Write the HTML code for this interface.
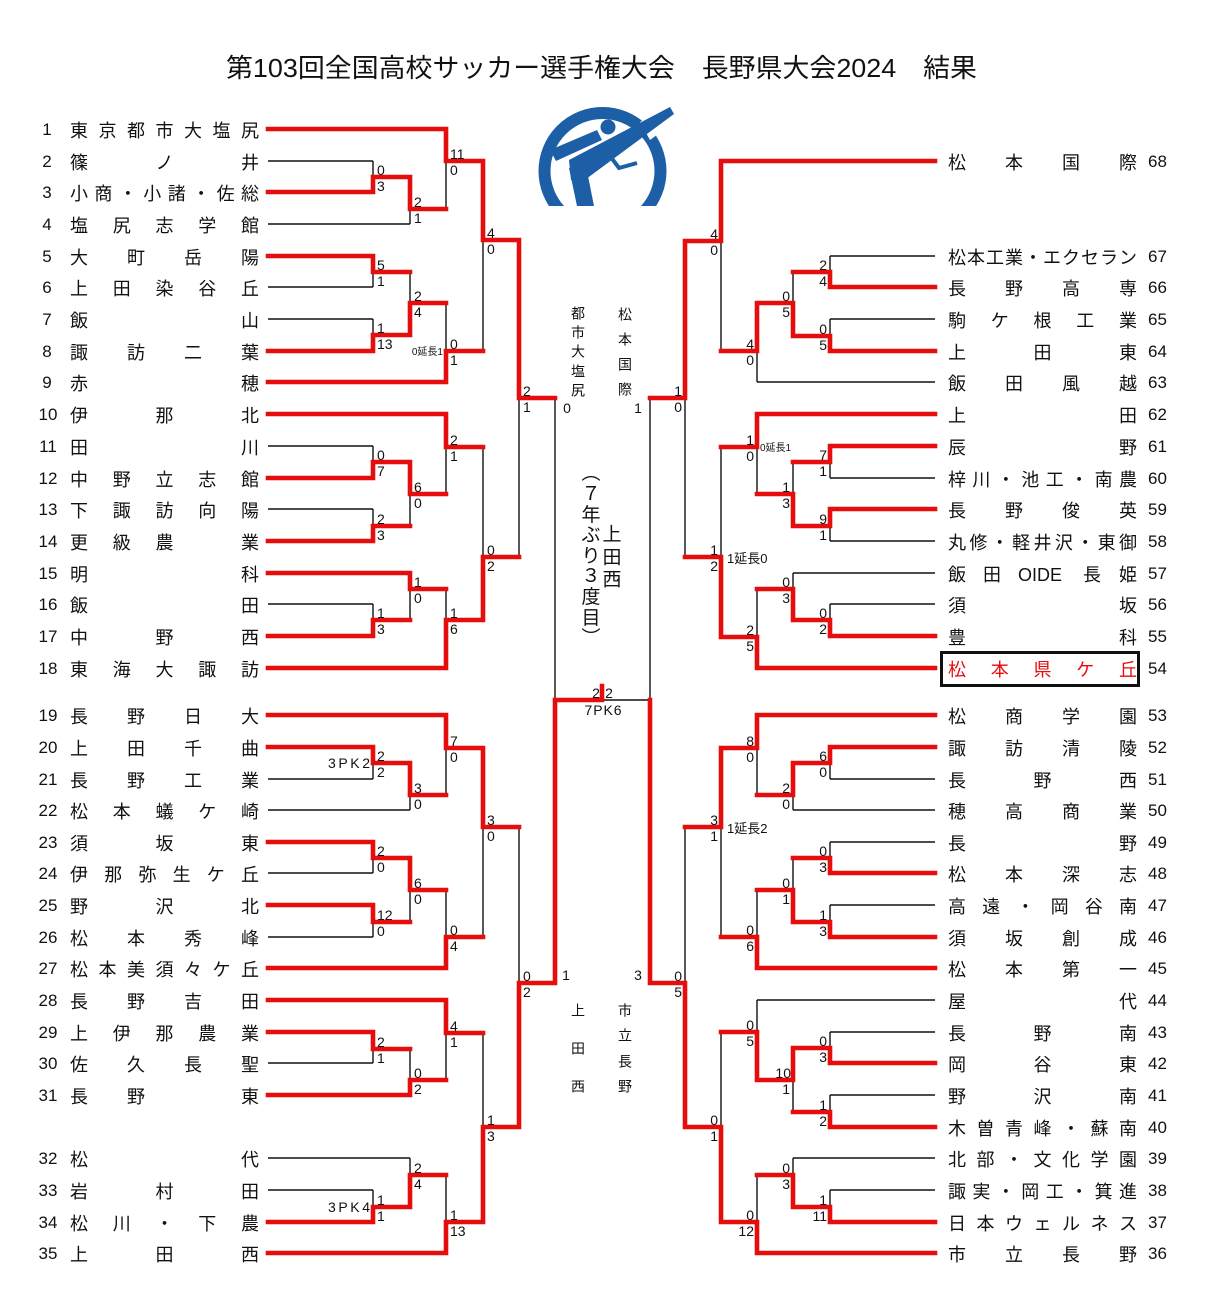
<!DOCTYPE html>
<html>
<head>
<meta charset="utf-8">
<style>
html,body{margin:0;padding:0;background:#fff;}
body{width:1210px;height:1296px;overflow:hidden;}
svg{display:block;}
.t{font-family:"Liberation Sans","Noto Sans CJK JP",sans-serif;fill:#111;}
.nm{font-size:18px;}
.num{font-size:17px;}
.sc{font-size:14px;}
.sr{font-size:14px;text-anchor:end;}
.mid{text-anchor:middle;}
</style>
</head>
<body>
<svg width="1210" height="1296" viewBox="0 0 1210 1296" xmlns="http://www.w3.org/2000/svg">
<rect width="1210" height="1296" fill="#fff"/>

<!-- Title -->
<text class="t" x="226" y="77" font-size="26" textLength="751" lengthAdjust="spacingAndGlyphs">第103回全国高校サッカー選手権大会　長野県大会2024　結果</text>

<!-- Logo -->
<defs><clipPath id="lc"><rect x="520" y="95" width="170" height="111"/></clipPath></defs>
<g clip-path="url(#lc)" fill="#1d5fa6">
  <circle cx="602.5" cy="171" r="58" fill="none" stroke="#1d5fa6" stroke-width="12"/>
  <polygon points="640,122 676,100 680,118 650,140" fill="#fff"/>
  <polygon points="569,160 670,107 674,114 582,182 571,180"/>
  <circle cx="608" cy="127" r="7.5"/>
  <polygon points="550,150 597,130 602,140 556,161"/>
  <polygon points="569,168 586,166 594,206 577,206"/>
  <polyline points="610,156 619,168 637,163" fill="none" stroke="#1d5fa6" stroke-width="4"/>
</g>

<!-- Black bracket lines -->
<path fill="none" stroke="#111" stroke-width="1.4" d="
M268 129H446 M268 161H373 M268 192H373 M268 224H410 M268 256H373 M268 287H373 M268 319H373 M268 351H373 M268 382H446
M268 414H446 M268 446H373 M268 478H373 M268 509H373 M268 541H373 M268 573H410 M268 604H373 M268 636H373 M268 668H446
M268 715H446 M268 747H373 M268 779H373 M268 810H410 M268 842H373 M268 873H373 M268 905H373 M268 937H373 M268 968H446
M268 1000H446 M268 1032H373 M268 1063H373 M268 1095H410 M268 1158H410 M268 1190H373 M268 1222H373 M268 1253H446
M373 161V192 M410 177V224 M446 129V209 M373 256V287 M373 319V351 M410 272V335 M446 303V382 M483 161V351
M373 446V478 M373 509V541 M410 462V526 M446 414V494 M373 604V636 M410 573V620 M446 589V668 M483 447V620 M519 240V557
M373 747V779 M410 763V810 M446 715V795 M373 842V873 M373 905V937 M410 858V922 M446 890V968 M483 748V937
M373 1032V1063 M410 1049V1095 M446 1000V1080 M373 1190V1222 M410 1158V1207 M446 1175V1253 M483 1033V1222 M519 827V1127
M555 398V983 M650 398V983 M555 700H650
M935 161H721 M935 256H830 M935 287H830 M935 319H830 M935 351H830 M935 382H757
M935 414H757 M935 446H830 M935 478H830 M935 509H830 M935 541H830 M935 573H793 M935 604H830 M935 636H830 M935 668H757
M935 715H757 M935 747H830 M935 779H830 M935 810H793 M935 842H830 M935 873H830 M935 905H830 M935 937H830 M935 968H757
M935 1000H757 M935 1032H830 M935 1063H830 M935 1095H830 M935 1127H830 M935 1158H793 M935 1190H830 M935 1222H830 M935 1253H757
M830 256V287 M830 319V351 M793 272V336 M757 303V382 M721 161V351
M830 446V478 M830 509V541 M793 462V526 M757 414V494 M830 604V636 M793 573V620 M757 589V668 M721 447V637 M685 241V557
M830 747V779 M793 763V810 M757 715V795 M830 842V873 M830 905V937 M793 858V922 M757 890V968 M721 748V937
M830 1032V1063 M830 1095V1127 M793 1048V1112 M757 1000V1080 M830 1190V1222 M793 1158V1207 M757 1175V1253 M721 1032V1222 M685 827V1127
"/>

<!-- Red winning paths -->
<path fill="none" stroke="#e60d0d" stroke-width="4.6" stroke-linecap="square" stroke-linejoin="miter" d="
M268 129H446 M268 192H373 M268 256H373 M268 351H373 M268 382H446 M268 414H446 M268 478H373 M268 541H373 M268 573H410 M268 636H373 M268 668H446
M268 715H446 M268 747H373 M268 842H373 M268 905H373 M268 968H446 M268 1000H446 M268 1032H373 M268 1095H410 M268 1222H373 M268 1253H446
M373 192V177H410 M410 177V209H446 M446 129V161H483 M373 256V272H410 M373 351V335H410 M410 335V303H446 M446 382V351H483 M483 161V240H519
M373 478V462H410 M373 541V526H410 M410 462V494H446 M446 414V447H483 M373 636V620H410 M410 573V589H446 M446 668V620H483 M483 620V557H519 M519 240V398H555
M373 747V763H410 M410 763V795H446 M446 715V748H483 M373 842V858H410 M373 905V922H410 M410 858V890H446 M446 968V937H483 M483 748V827H519
M373 1032V1049H410 M410 1095V1080H446 M446 1000V1033H483 M373 1222V1207H410 M410 1207V1175H446 M446 1253V1222H483 M483 1222V1127H519 M519 1127V983H555
M555 983V700H602 M602 700V686
M935 161H721 M935 287H830 M935 351H830 M935 414H757 M935 446H830 M935 509H830 M935 636H830 M935 668H757
M935 715H757 M935 747H830 M935 873H830 M935 937H830 M935 968H757 M935 1063H830 M935 1127H830 M935 1222H830 M935 1253H757
M830 287V272H793 M830 351V336H793 M793 336V303H757 M757 303V351H721 M721 161V241H685
M830 446V462H793 M830 509V526H793 M793 526V494H757 M757 414V447H721 M830 636V620H793 M793 620V589H757 M757 668V637H721 M721 637V557H685 M685 241V398H650
M830 747V763H793 M793 763V795H757 M757 715V748H721 M830 873V858H793 M830 937V922H793 M793 922V890H757 M757 968V937H721 M721 748V827H685
M830 1063V1048H793 M830 1127V1112H793 M793 1048V1080H757 M757 1080V1032H721 M830 1222V1207H793 M793 1207V1175H757 M757 1253V1222H721 M721 1222V1127H685 M685 1127V983H650
M650 983V700
"/>

<!-- Box around 松本県ケ丘 -->
<rect x="941.5" y="652.5" width="197" height="33" fill="none" stroke="#111" stroke-width="3"/>

<!-- Left numbers -->
<g class="t num mid">
<text x="47" y="135">1</text><text x="47" y="167">2</text><text x="47" y="198">3</text><text x="47" y="230">4</text><text x="47" y="262">5</text><text x="47" y="293">6</text><text x="47" y="325">7</text><text x="47" y="357">8</text><text x="47" y="388">9</text>
<text x="48" y="420">10</text><text x="48" y="452">11</text><text x="48" y="484">12</text><text x="48" y="515">13</text><text x="48" y="547">14</text><text x="48" y="579">15</text><text x="48" y="610">16</text><text x="48" y="642">17</text><text x="48" y="674">18</text>
<text x="48" y="721">19</text><text x="48" y="753">20</text><text x="48" y="785">21</text><text x="48" y="816">22</text><text x="48" y="848">23</text><text x="48" y="879">24</text><text x="48" y="911">25</text><text x="48" y="943">26</text><text x="48" y="974">27</text>
<text x="48" y="1006">28</text><text x="48" y="1038">29</text><text x="48" y="1069">30</text><text x="48" y="1101">31</text><text x="48" y="1164">32</text><text x="48" y="1196">33</text><text x="48" y="1228">34</text><text x="48" y="1259">35</text>
</g>

<!-- Left names -->
<g class="t nm">
<text y="137" x="70 98.5 127 155.5 184 212.5 241">東京都市大塩尻</text>
<text y="169" x="70 155.5 241">篠ノ井</text>
<text y="200" x="70 94.4 118.9 143.3 167.7 192.1 216.6 241">小商・小諸・佐総</text>
<text y="232" x="70 112.75 155.5 198.25 241">塩尻志学館</text>
<text y="264" x="70 127 184 241">大町岳陽</text>
<text y="295" x="70 112.75 155.5 198.25 241">上田染谷丘</text>
<text y="327" x="70 241">飯山</text>
<text y="359" x="70 127 184 241">諏訪二葉</text>
<text y="390" x="70 241">赤穂</text>
<text y="422" x="70 155.5 241">伊那北</text>
<text y="454" x="70 241">田川</text>
<text y="486" x="70 112.75 155.5 198.25 241">中野立志館</text>
<text y="517" x="70 112.75 155.5 198.25 241">下諏訪向陽</text>
<text y="549" x="70 112.75 155.5 241">更級農業</text>
<text y="581" x="70 241">明科</text>
<text y="612" x="70 241">飯田</text>
<text y="644" x="70 155.5 241">中野西</text>
<text y="676" x="70 112.75 155.5 198.25 241">東海大諏訪</text>
<text y="723" x="70 127 184 241">長野日大</text>
<text y="755" x="70 127 184 241">上田千曲</text>
<text y="787" x="70 127 184 241">長野工業</text>
<text y="818" x="70 112.75 155.5 198.25 241">松本蟻ケ崎</text>
<text y="850" x="70 155.5 241">須坂東</text>
<text y="881" x="70 104.2 138.4 172.6 206.8 241">伊那弥生ケ丘</text>
<text y="913" x="70 155.5 241">野沢北</text>
<text y="945" x="70 127 184 241">松本秀峰</text>
<text y="976" x="70 98.5 127 155.5 184 212.5 241">松本美須々ケ丘</text>
<text y="1008" x="70 127 184 241">長野吉田</text>
<text y="1040" x="70 112.75 155.5 198.25 241">上伊那農業</text>
<text y="1071" x="70 127 184 241">佐久長聖</text>
<text y="1103" x="70 127 241">長野東</text>
<text y="1166" x="70 241">松代</text>
<text y="1198" x="70 155.5 241">岩村田</text>
<text y="1230" x="70 112.75 155.5 198.25 241">松川・下農</text>
<text y="1261" x="70 155.5 241">上田西</text>
</g>

<!-- Right names -->
<g class="t nm">
<text y="169" x="948 1005 1062 1119">松本国際</text>
<text y="264" x="948 967 986 1005 1024 1043 1062 1081 1100 1119">松本工業・エクセラン</text>
<text y="295" x="948 1005 1062 1119">長野高専</text>
<text y="327" x="948 990.75 1033.5 1076.25 1119">駒ケ根工業</text>
<text y="359" x="948 1033.5 1119">上田東</text>
<text y="390" x="948 1005 1062 1119">飯田風越</text>
<text y="422" x="948 1119">上田</text>
<text y="454" x="948 1119">辰野</text>
<text y="486" x="948 972.4 996.9 1021.3 1045.7 1070.1 1094.6 1119">梓川・池工・南農</text>
<text y="517" x="948 1005 1062 1119">長野俊英</text>
<text y="549" x="948 969.4 990.75 1012.1 1033.5 1054.9 1076.25 1097.6 1119">丸修・軽井沢・東御</text>
<text y="581"><tspan x="948">飯</tspan><tspan x="983">田</tspan><tspan x="1018">OIDE</tspan><tspan x="1083">長</tspan><tspan x="1119">姫</tspan></text>
<text y="612" x="948 1119">須坂</text>
<text y="644" x="948 1119">豊科</text>
<text y="676" x="948 990.75 1033.5 1076.25 1119" style="fill:#e60d0d">松本県ケ丘</text>
<text y="723" x="948 1005 1062 1119">松商学園</text>
<text y="755" x="948 1005 1062 1119">諏訪清陵</text>
<text y="787" x="948 1033.5 1119">長野西</text>
<text y="818" x="948 1005 1062 1119">穂高商業</text>
<text y="850" x="948 1119">長野</text>
<text y="881" x="948 1005 1062 1119">松本深志</text>
<text y="913" x="948 982.2 1016.4 1050.6 1084.8 1119">高遠・岡谷南</text>
<text y="945" x="948 1005 1062 1119">須坂創成</text>
<text y="976" x="948 1005 1062 1119">松本第一</text>
<text y="1008" x="948 1119">屋代</text>
<text y="1040" x="948 1033.5 1119">長野南</text>
<text y="1071" x="948 1033.5 1119">岡谷東</text>
<text y="1103" x="948 1033.5 1119">野沢南</text>
<text y="1135" x="948 976.5 1005 1033.5 1062 1090.5 1119">木曽青峰・蘇南</text>
<text y="1166" x="948 976.5 1005 1033.5 1062 1090.5 1119">北部・文化学園</text>
<text y="1198" x="948 972.4 996.9 1021.3 1045.7 1070.1 1094.6 1119">諏実・岡工・箕進</text>
<text y="1230" x="948 976.5 1005 1033.5 1062 1090.5 1119">日本ウェルネス</text>
<text y="1261" x="948 1005 1062 1119">市立長野</text>
</g>

<!-- Right numbers -->
<g class="t num">
<text x="1148" y="167">68</text><text x="1148" y="262">67</text><text x="1148" y="293">66</text><text x="1148" y="325">65</text><text x="1148" y="357">64</text><text x="1148" y="388">63</text>
<text x="1148" y="420">62</text><text x="1148" y="452">61</text><text x="1148" y="484">60</text><text x="1148" y="515">59</text><text x="1148" y="547">58</text><text x="1148" y="579">57</text><text x="1148" y="610">56</text><text x="1148" y="642">55</text><text x="1148" y="674">54</text>
<text x="1148" y="721">53</text><text x="1148" y="753">52</text><text x="1148" y="785">51</text><text x="1148" y="816">50</text><text x="1148" y="848">49</text><text x="1148" y="879">48</text><text x="1148" y="911">47</text><text x="1148" y="943">46</text><text x="1148" y="974">45</text>
<text x="1148" y="1006">44</text><text x="1148" y="1038">43</text><text x="1148" y="1069">42</text><text x="1148" y="1101">41</text><text x="1148" y="1133">40</text><text x="1148" y="1164">39</text><text x="1148" y="1196">38</text><text x="1148" y="1228">37</text><text x="1148" y="1259">36</text>
</g>

<!-- Left scores -->
<g class="t sc">
<text x="377" y="175">0</text><text x="377" y="191">3</text>
<text x="414" y="207">2</text><text x="414" y="223">1</text>
<text x="450" y="159">11</text><text x="450" y="175">0</text>
<text x="377" y="270">5</text><text x="377" y="286">1</text>
<text x="377" y="333">1</text><text x="377" y="349">13</text>
<text x="414" y="301">2</text><text x="414" y="317">4</text>
<text x="450" y="349">0</text><text x="450" y="365">1</text>
<text x="487" y="238">4</text><text x="487" y="254">0</text>
<text x="377" y="460">0</text><text x="377" y="476">7</text>
<text x="377" y="524">2</text><text x="377" y="540">3</text>
<text x="414" y="492">6</text><text x="414" y="508">0</text>
<text x="450" y="445">2</text><text x="450" y="461">1</text>
<text x="377" y="618">1</text><text x="377" y="634">3</text>
<text x="414" y="587">1</text><text x="414" y="603">0</text>
<text x="450" y="618">1</text><text x="450" y="634">6</text>
<text x="487" y="555">0</text><text x="487" y="571">2</text>
<text x="523" y="396">2</text><text x="523" y="412">1</text>
<text x="377" y="761">2</text><text x="377" y="777">2</text>
<text x="414" y="793">3</text><text x="414" y="809">0</text>
<text x="450" y="746">7</text><text x="450" y="762">0</text>
<text x="377" y="856">2</text><text x="377" y="872">0</text>
<text x="377" y="920">12</text><text x="377" y="936">0</text>
<text x="414" y="888">6</text><text x="414" y="904">0</text>
<text x="450" y="935">0</text><text x="450" y="951">4</text>
<text x="487" y="825">3</text><text x="487" y="841">0</text>
<text x="377" y="1047">2</text><text x="377" y="1063">1</text>
<text x="414" y="1078">0</text><text x="414" y="1094">2</text>
<text x="450" y="1031">4</text><text x="450" y="1047">1</text>
<text x="377" y="1205">1</text><text x="377" y="1221">1</text>
<text x="414" y="1173">2</text><text x="414" y="1189">4</text>
<text x="450" y="1220">1</text><text x="450" y="1236">13</text>
<text x="487" y="1125">1</text><text x="487" y="1141">3</text>
<text x="523" y="981">0</text><text x="523" y="997">2</text>
</g>
<g class="t">
<text x="443" y="355" font-size="10" text-anchor="end">0延長1</text>
<text x="328" y="768" font-size="14" textLength="42">3PK2</text>
<text x="328" y="1212" font-size="14" textLength="42">3PK4</text>
</g>

<!-- Right scores -->
<g class="t sr">
<text x="827" y="270">2</text><text x="827" y="286">4</text>
<text x="827" y="334">0</text><text x="827" y="350">5</text>
<text x="790" y="301">0</text><text x="790" y="317">5</text>
<text x="754" y="349">4</text><text x="754" y="365">0</text>
<text x="718" y="239">4</text><text x="718" y="255">0</text>
<text x="827" y="460">7</text><text x="827" y="476">1</text>
<text x="827" y="524">9</text><text x="827" y="540">1</text>
<text x="790" y="492">1</text><text x="790" y="508">3</text>
<text x="754" y="445">1</text><text x="754" y="461">0</text>
<text x="827" y="618">0</text><text x="827" y="634">2</text>
<text x="790" y="587">0</text><text x="790" y="603">3</text>
<text x="754" y="635">2</text><text x="754" y="651">5</text>
<text x="718" y="555">1</text><text x="718" y="571">2</text>
<text x="682" y="396">1</text><text x="682" y="412">0</text>
<text x="827" y="761">6</text><text x="827" y="777">0</text>
<text x="790" y="793">2</text><text x="790" y="809">0</text>
<text x="754" y="746">8</text><text x="754" y="762">0</text>
<text x="827" y="856">0</text><text x="827" y="872">3</text>
<text x="827" y="920">1</text><text x="827" y="936">3</text>
<text x="790" y="888">0</text><text x="790" y="904">1</text>
<text x="754" y="935">0</text><text x="754" y="951">6</text>
<text x="718" y="825">3</text><text x="718" y="841">1</text>
<text x="827" y="1046">0</text><text x="827" y="1062">3</text>
<text x="827" y="1110">1</text><text x="827" y="1126">2</text>
<text x="791" y="1078">10</text><text x="790" y="1094">1</text>
<text x="754" y="1030">0</text><text x="754" y="1046">5</text>
<text x="827" y="1205">1</text><text x="827" y="1221">11</text>
<text x="790" y="1173">0</text><text x="790" y="1189">3</text>
<text x="754" y="1220">0</text><text x="754" y="1236">12</text>
<text x="718" y="1125">0</text><text x="718" y="1141">1</text>
<text x="682" y="981">0</text><text x="682" y="997">5</text>
</g>
<g class="t">
<text x="760" y="451" font-size="10">0延長1</text>
<text x="727" y="563" font-size="13">1延長0</text>
<text x="727" y="833" font-size="13">1延長2</text>
</g>

<!-- Semifinal / final scores -->
<g class="t sc mid">
<text x="567" y="413">0</text><text x="638" y="413">1</text>
<text x="566" y="980">1</text><text x="638" y="980">3</text>
<text x="596" y="698">2</text><text x="609" y="698">2</text>
<text x="603" y="715" textLength="37">7PK6</text>
</g>

<!-- Middle vertical labels -->
<g class="t mid" font-size="14">
<text x="578" y="318.5">都</text><text x="578" y="337.5">市</text><text x="578" y="356.5">大</text><text x="578" y="376.5">塩</text><text x="578" y="395.5">尻</text>
<text x="625" y="319.5">松</text><text x="625" y="344.5">本</text><text x="625" y="369.5">国</text><text x="625" y="394.5">際</text>
<text x="578" y="1015.5">上</text><text x="578" y="1053.5">田</text><text x="578" y="1091.5">西</text>
<text x="625" y="1015.5">市</text><text x="625" y="1040.5">立</text><text x="625" y="1066.5">長</text><text x="625" y="1091.5">野</text>
</g>
<g class="t mid" font-size="19">
<text x="591" y="479">︵</text>
<text x="591" y="500">７</text>
<text x="591" y="521">年</text>
<text x="591" y="541">ぶ</text>
<text x="591" y="562">り</text>
<text x="591" y="582">３</text>
<text x="591" y="603">度</text>
<text x="591" y="624">目</text>
<text x="591" y="644">︶</text>
<text x="612" y="540.5">上</text>
<text x="612" y="563.5">田</text>
<text x="612" y="585.5">西</text>
</g>
</svg>
</body>
</html>
